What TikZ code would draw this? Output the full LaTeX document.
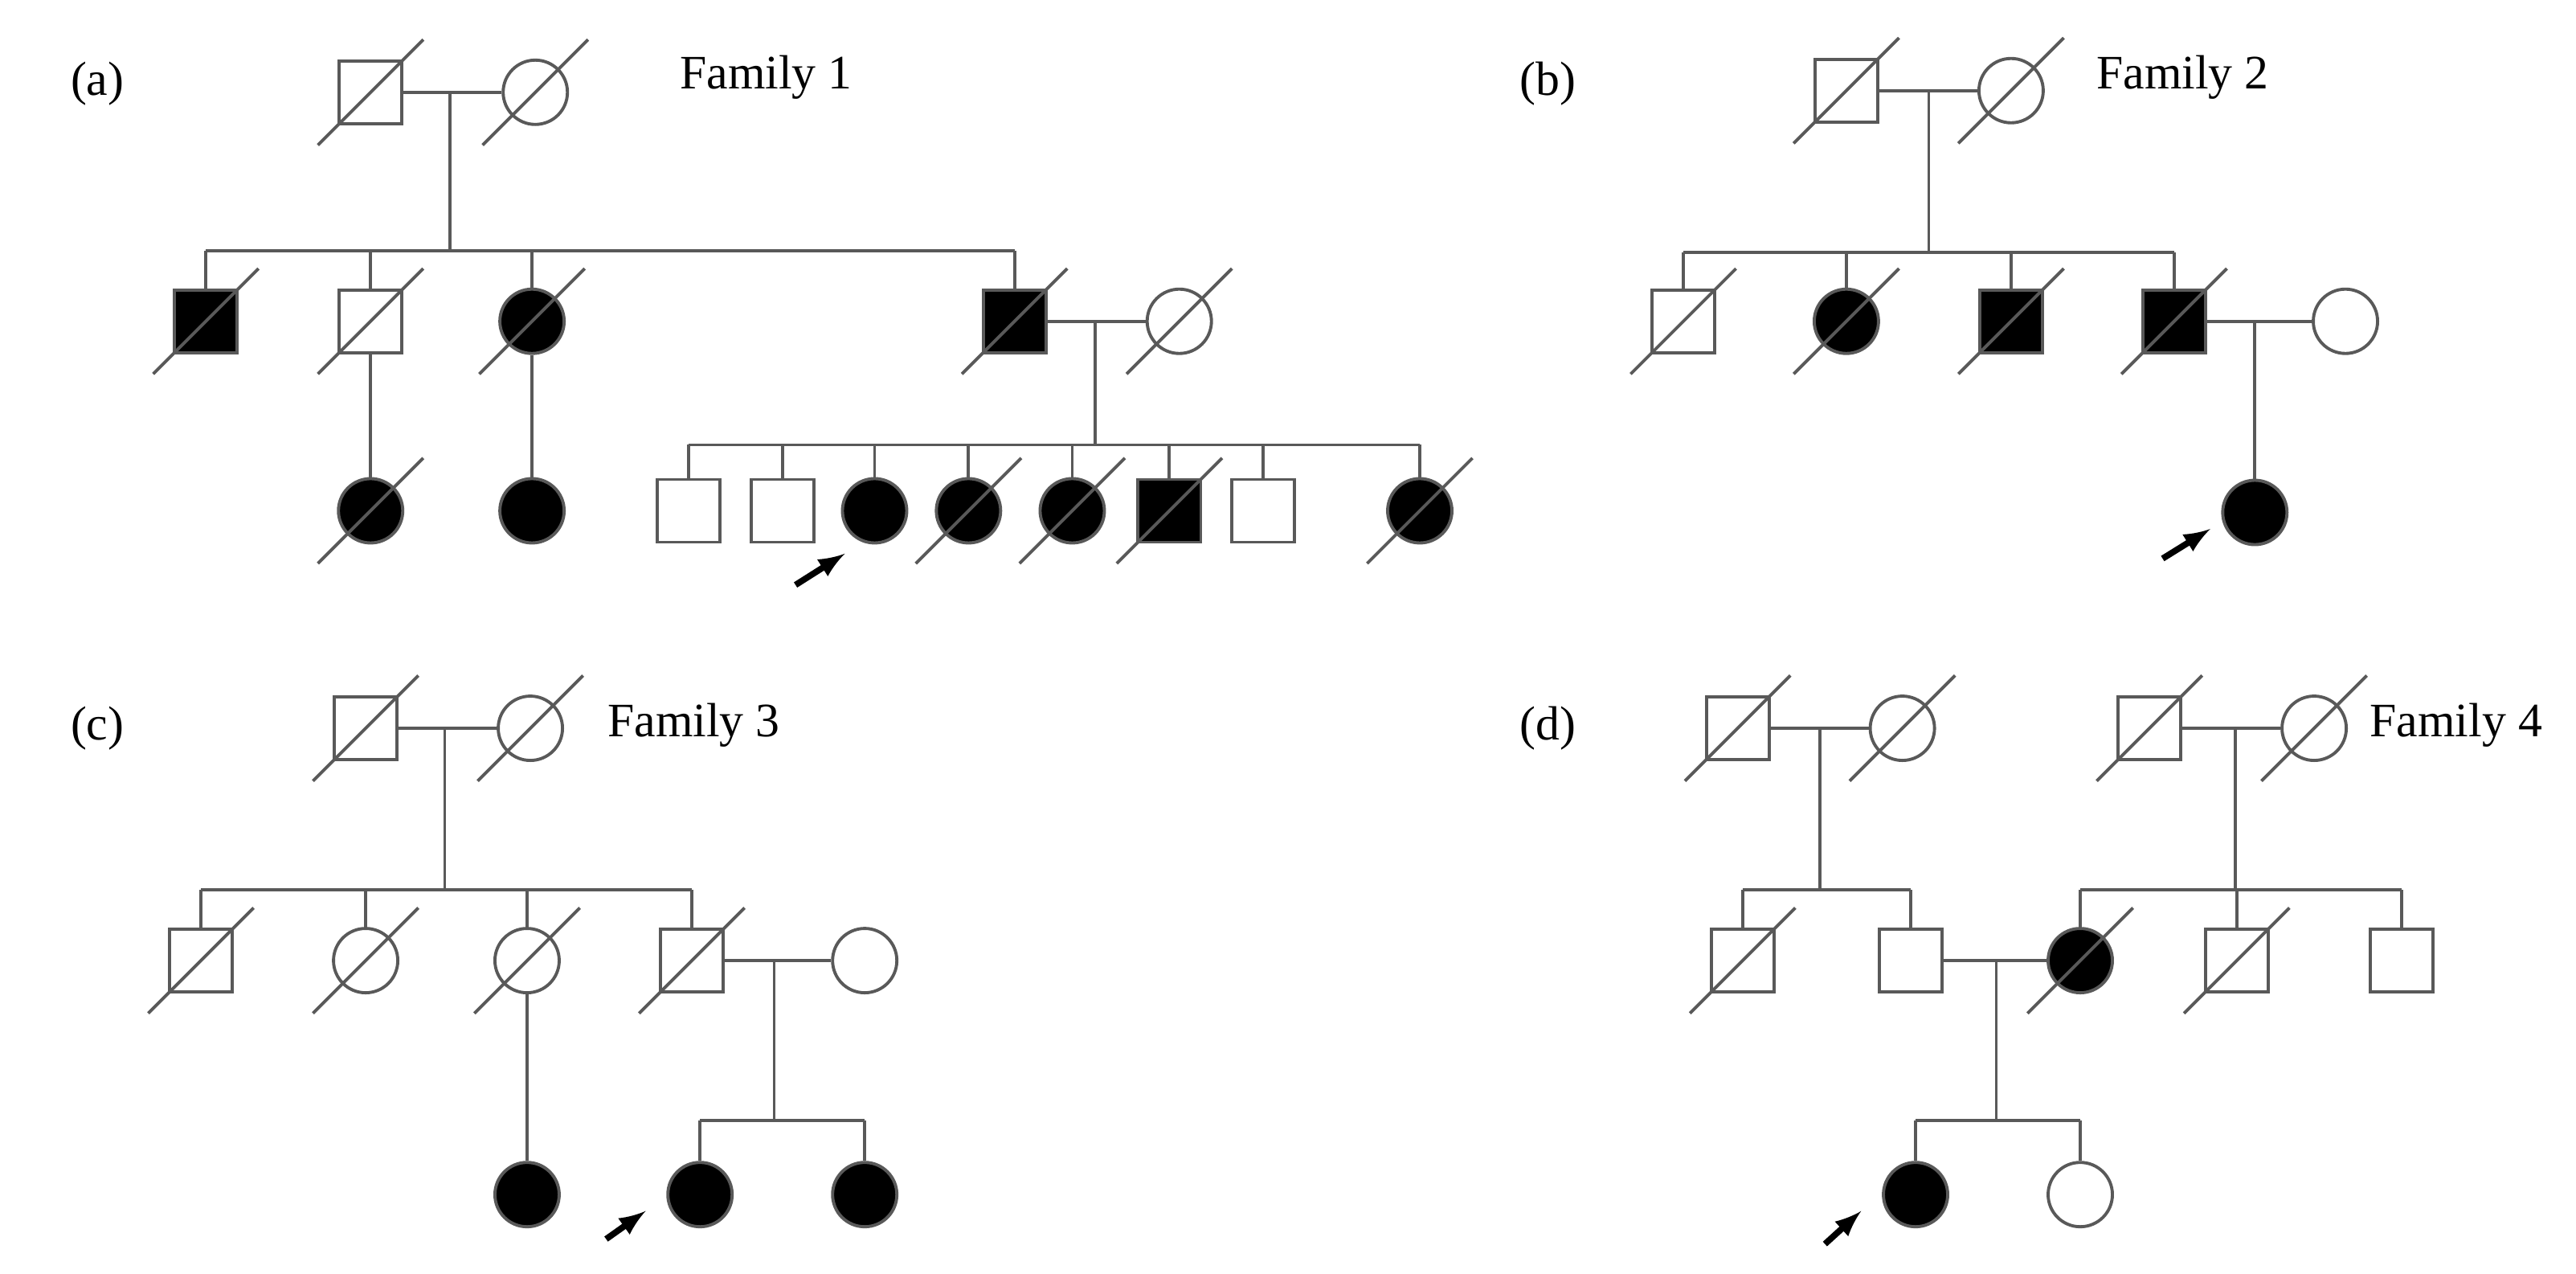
\documentclass[tikz,border=0pt]{standalone}
\usepackage{fontspec}
\setmainfont{Liberation Serif}
\begin{document}
\begin{tikzpicture}[x=0.0205cm,y=-0.0205cm,
  ln/.style={line width=1.1pt,draw=black!65},
  m/.style={ln,rectangle,minimum size=0.78cm,inner sep=0},
  f/.style={ln,circle,minimum size=0.8cm,inner sep=0},
  a/.style={fill=black},
  lab/.style={font=\fontsize{17}{20}\selectfont,anchor=west,inner sep=0},
  pr/.style={-latex,line width=2.2pt,draw=black}]
\useasboundingbox (0,0) rectangle (1564,773);
\tikzset{every path/.append style={ln}}
\newcommand{\dd}[1]{\draw[ln] ([shift={(-32,32)}]#1.center) -- ([shift={(32,-32)}]#1.center);}
% ---------- (a) Family 1
\node[lab] (la) at (42,51) {(a)};
\node[lab] (fa) at (412,47) {Family 1};
\node[m] (a1) at (225,56) {}; \dd{a1}
\node[f] (a2) at (325,56) {}; \dd{a2}
\draw[ln] (a1) -- (a2);
\draw[ln] (273,56) -- (273,152);
\draw[ln] (125,152) -- (616,152);
\node[m,a] (b1) at (125,195) {}; \dd{b1}
\node[m] (b2) at (225,195) {}; \dd{b2}
\node[f,a] (b3) at (323,195) {}; \dd{b3}
\node[m,a] (b4) at (616,195) {}; \dd{b4}
\node[f] (b5) at (716,195) {}; \dd{b5}
\foreach \n in {b1,b2,b3,b4} \draw[ln] (\n.north) -- (\n.north|-0,152);
\draw[ln] (b4) -- (b5);
\draw[ln] (665,195) -- (665,270);
\draw[ln] (418,270) -- (862,270);
\node[f,a] (c1) at (225,310) {}; \dd{c1}
\node[f,a] (c2) at (323,310) {};
\draw[ln] (b2) -- (c1); \draw[ln] (b3) -- (c2);
\node[m] (c3) at (418,310) {};
\node[m] (c4) at (475,310) {};
\node[f,a] (c5) at (531,310) {};
\node[f,a] (c6) at (588,310) {}; \dd{c6}
\node[f,a] (c7) at (651,310) {}; \dd{c7}
\node[m,a] (c8) at (710,310) {}; \dd{c8}
\node[m] (c9) at (767,310) {};
\node[f,a] (c10) at (862,310) {}; \dd{c10}
\foreach \n in {c3,c4,c5,c6,c7,c8,c9,c10} \draw[ln] (\n.north) -- (\n.north|-0,270);
\coordinate (pa) at (483,355);
\draw[pr] (pa) -- (513,336);
% ---------- (b) Family 2
\node[lab] (lb) at (922,51) {(b)};
\node[lab] (fb) at (1272,47) {Family 2};
\node[m] (d1) at (1121,55) {}; \dd{d1}
\node[f] (d2) at (1221,55) {}; \dd{d2}
\draw[ln] (d1) -- (d2);
\draw[ln] (1171,55) -- (1171,153);
\draw[ln] (1022,153) -- (1320,153);
\node[m] (e1) at (1022,195) {}; \dd{e1}
\node[f,a] (e2) at (1121,195) {}; \dd{e2}
\node[m,a] (e3) at (1221,195) {}; \dd{e3}
\node[m,a] (e4) at (1320,195) {}; \dd{e4}
\node[f] (e5) at (1424,195) {};
\foreach \n in {e1,e2,e3,e4} \draw[ln] (\n.north) -- (\n.north|-0,153);
\draw[ln] (e4) -- (e5);
\node[f,a] (g1) at (1369,311) {};
\draw[ln] (1369,195) -- (g1);
\coordinate (pb) at (1313,339);
\draw[pr] (pb) -- (1342,321);
% ---------- (c) Family 3
\node[lab] (lc) at (42,442) {(c)};
\node[lab] (fc) at (368,440) {Family 3};
\node[m] (h1) at (222,442) {}; \dd{h1}
\node[f] (h2) at (322,442) {}; \dd{h2}
\draw[ln] (h1) -- (h2);
\draw[ln] (270,442) -- (270,540);
\draw[ln] (122,540) -- (420,540);
\node[m] (i1) at (122,583) {}; \dd{i1}
\node[f] (i2) at (222,583) {}; \dd{i2}
\node[f] (i3) at (320,583) {}; \dd{i3}
\node[m] (i4) at (420,583) {}; \dd{i4}
\node[f] (i5) at (525,583) {};
\foreach \n in {i1,i2,i3,i4} \draw[ln] (\n.north) -- (\n.north|-0,540);
\draw[ln] (i4) -- (i5);
\draw[ln] (470,583) -- (470,680);
\draw[ln] (425,680) -- (525,680);
\node[f,a] (j1) at (320,725) {};
\node[f,a] (j2) at (425,725) {};
\node[f,a] (j3) at (525,725) {};
\draw[ln] (i3) -- (j1);
\draw[ln] (j2.north) -- (425,680); \draw[ln] (j3.north) -- (525,680);
\coordinate (pc) at (368,752);
\draw[pr] (pc) -- (392,735);
% ---------- (d) Family 4
\node[lab] (ld) at (922,442) {(d)};
\node[lab] (fd) at (1438,440) {Family 4};
\node[m] (k1) at (1055,442) {}; \dd{k1}
\node[f] (k2) at (1155,442) {}; \dd{k2}
\draw[ln] (k1) -- (k2);
\draw[ln] (1105,442) -- (1105,540);
\draw[ln] (1058,540) -- (1160,540);
\node[m] (k3) at (1305,442) {}; \dd{k3}
\node[f] (k4) at (1405,442) {}; \dd{k4}
\draw[ln] (k3) -- (k4);
\draw[ln] (1357,442) -- (1357,540);
\draw[ln] (1263,540) -- (1458,540);
\node[m] (l1) at (1058,583) {}; \dd{l1}
\node[m] (l2) at (1160,583) {};
\node[f,a] (l3) at (1263,583) {}; \dd{l3}
\node[m] (l4) at (1358,583) {}; \dd{l4}
\node[m] (l5) at (1458,583) {};
\foreach \n in {l1,l2,l3,l4,l5} \draw[ln] (\n.north) -- (\n.north|-0,540);
\draw[ln] (l2) -- (l3);
\draw[ln] (1212,583) -- (1212,680);
\draw[ln] (1163,680) -- (1263,680);
\node[f,a] (n1) at (1163,725) {};
\node[f] (n2) at (1263,725) {};
\draw[ln] (n1.north) -- (1163,680); \draw[ln] (n2.north) -- (1263,680);
\coordinate (pd) at (1108,755);
\draw[pr] (pd) -- (1130,735);
\end{tikzpicture}
\end{document}
